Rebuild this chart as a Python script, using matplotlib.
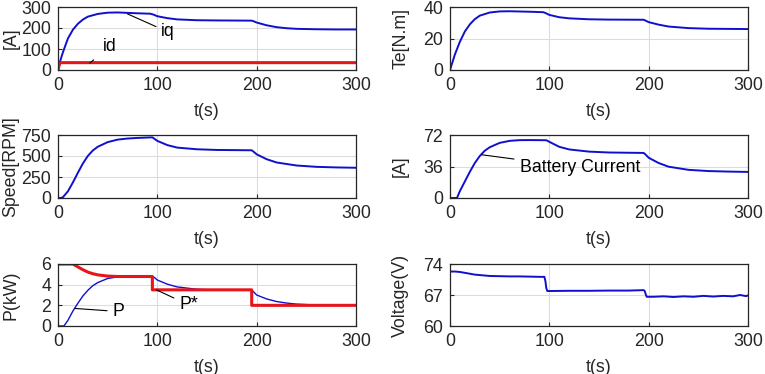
import matplotlib
matplotlib.use('Agg')
import matplotlib.pyplot as plt

plt.rcParams['font.family'] = ['Liberation Sans', 'DejaVu Sans']
plt.rcParams['font.size'] = 12.8

# --- data ---
t_iq = [0, 2, 5, 10, 15, 20, 25, 30, 40, 50, 60, 70, 80, 93, 96, 100, 110, 120, 140, 160, 195,
        197, 200, 210, 220, 230, 240, 260, 280, 300]
iq = [0, 40, 85, 150, 192, 220, 240, 254, 267, 273, 274, 272, 270, 268, 264, 256, 247, 241, 237, 236, 235,
      232, 226, 213, 204, 199, 196, 194, 193, 193]
t_id = [0, 1, 2, 300]
id_ = [0, 20, 35, 35]

t_te = [0, 1, 5, 10, 15, 20, 25, 30, 40, 50, 60, 80, 94, 96, 100, 110, 120, 140, 160, 195,
        197, 200, 210, 220, 240, 260, 300]
te = [0, 2, 10, 18, 24.5, 29, 32.3, 34.5, 36.5, 37.2, 37.3, 37.0, 36.7, 36.2, 35.0, 33.5, 32.8, 32.2, 32.0, 31.9,
      31.3, 30.4, 28.8, 27.6, 26.6, 26.2, 26.0]

t_spd = [0, 3, 5, 10, 15, 20, 25, 30, 35, 40, 50, 60, 70, 80, 90, 95, 100, 110, 120, 140, 160, 195,
         197, 200, 210, 220, 240, 260, 280, 300]
spd = [0, 0, 10, 80, 185, 300, 410, 500, 565, 610, 665, 695, 708, 715, 720, 722, 680, 630, 600, 580, 572, 568,
       550, 520, 462, 423, 387, 371, 364, 360]

t_bat = [0, 7, 10, 15, 20, 25, 30, 35, 40, 50, 60, 70, 80, 90, 97, 100, 110, 120, 140, 160, 195,
         197, 200, 210, 220, 240, 260, 280, 300]
bat = [0, 0, 8, 19, 30, 40, 48, 54, 58, 63, 65.3, 66.1, 66.2, 66.1, 66.0, 64.2, 58.5, 55.5, 53.0, 52.0, 51.5,
       49.5, 46.0, 40.0, 35.8, 32.2, 30.8, 30.2, 29.8]

t_pref = [0, 15, 20, 25, 30, 35, 40, 50, 60, 95, 95, 195, 195, 300]
pref = [6.0, 6.0, 5.72, 5.45, 5.22, 5.06, 4.95, 4.83, 4.79, 4.79, 3.5, 3.5, 2.0, 2.0]
t_p = [0, 6, 10, 15, 20, 25, 30, 35, 40, 50, 60, 70, 80, 95, 97, 100, 110, 120, 140, 160, 195,
       197, 200, 210, 220, 230, 240, 260, 300]
p = [0, 0, 0.55, 1.45, 2.2, 2.9, 3.45, 3.9, 4.2, 4.6, 4.75, 4.8, 4.8, 4.8, 4.7, 4.45, 4.05, 3.78, 3.55, 3.48, 3.45,
     3.3, 3.0, 2.62, 2.37, 2.22, 2.12, 2.03, 2.0]

t_v = [0, 5, 10, 15, 20, 25, 30, 35, 40, 50, 60, 70, 80, 90, 95, 96, 97, 98, 100, 120, 140, 160, 180, 195,
       196, 197, 198, 205, 215, 225, 235, 245, 255, 265, 275, 285, 292, 298, 300]
volt = [72.3, 72.3, 72.2, 72.0, 71.8, 71.6, 71.5, 71.4, 71.3, 71.25, 71.2, 71.2, 71.15, 71.1, 71.1, 70.2, 68.5, 67.9,
        67.9, 67.95, 67.95, 68.0, 68.0, 68.1, 67.9, 67.2, 66.6, 66.6, 66.7, 66.55, 66.7, 66.6, 66.8, 66.65, 66.8,
        66.7, 67.0, 66.75, 66.9]

BLUE = '#1010cc'
RED = '#e8141c'

fig = plt.figure(figsize=(7.65, 3.74), dpi=100)
W = 298 / 765
lefts = [58 / 765, 450 / 765]
rows = [(1 - 70 / 374, 63 / 374), (1 - 198 / 374, 63 / 374), (1 - 326 / 374, 62 / 374)]


def make_ax(col, row, ylim, yticks, ylabel):
    b, h = rows[row]
    ax = fig.add_axes([lefts[col], b, W, h])
    ax.set_xlim(0, 300)
    ax.set_ylim(*ylim)
    ax.set_xticks([0, 100, 200, 300])
    ax.set_yticks(yticks)
    ax.grid(True, color='#dcdcdc', lw=0.8)
    ax.set_axisbelow(True)
    ax.tick_params(direction='in', length=3, colors='#262626', labelsize=12.8, pad=5)
    for s in ax.spines.values():
        s.set_color('#262626')
        s.set_linewidth(0.9)
    ax.set_xlabel('t(s)', color='#262626')
    ax.xaxis.set_label_coords(0.5, -0.53)
    ax.set_ylabel(ylabel, color='#262626')
    ax.yaxis.set_label_coords(-0.13 if col == 0 else -0.137, 0.5)
    return ax


# row 1 left: currents
ax = make_ax(0, 0, (0, 300), [0, 100, 200, 300], '[A]')
ax.plot(t_iq, iq, color=BLUE, lw=1.4)
ax.plot(t_id, id_, color=RED, lw=2.2)
ax.annotate('iq', xy=(70, 267), xytext=(104, 181), ha='left', va='center',
            arrowprops=dict(arrowstyle='-', color='k', lw=0.8, shrinkA=2, shrinkB=0))
ax.annotate('id', xy=(32, 33), xytext=(52, 112), ha='center', va='center',
            arrowprops=dict(arrowstyle='-', color='k', lw=0.8, shrinkA=6, shrinkB=0))

# row 1 right: torque
ax = make_ax(1, 0, (0, 40), [0, 20, 40], 'Te[N.m]')
ax.plot(t_te, te, color=BLUE, lw=1.4)

# row 2 left: speed
ax = make_ax(0, 1, (0, 750), [0, 250, 500, 750], 'Speed[RPM]')
ax.plot(t_spd, spd, color=BLUE, lw=1.4)

# row 2 right: battery current
ax = make_ax(1, 1, (0, 72), [0, 36, 72], '[A]')
ax.plot(t_bat, bat, color=BLUE, lw=1.4)
ax.annotate('Battery Current', xy=(32, 49.4), xytext=(70, 34.6), ha='left', va='center',
            arrowprops=dict(arrowstyle='-', color='k', lw=0.8, shrinkA=2, shrinkB=0))

# row 3 left: power
ax = make_ax(0, 2, (0, 6), [0, 2, 4, 6], 'P(kW)')
ax.plot(t_p, p, color=BLUE, lw=1.0)
ax.plot(t_pref, pref, color=RED, lw=2.2)
ax.annotate('P', xy=(17, 1.7), xytext=(55, 1.4), ha='left', va='center',
            arrowprops=dict(arrowstyle='-', color='k', lw=0.8, shrinkA=2, shrinkB=0))
ax.annotate('P*', xy=(99, 3.5), xytext=(122, 2.05), ha='left', va='center',
            arrowprops=dict(arrowstyle='-', color='k', lw=0.8, shrinkA=2, shrinkB=0))

# row 3 right: voltage
ax = make_ax(1, 2, (60, 74), [60, 67, 74], 'Voltage(V)')
ax.plot(t_v, volt, color=BLUE, lw=1.4)

fig.savefig('out.png', dpi=100)
